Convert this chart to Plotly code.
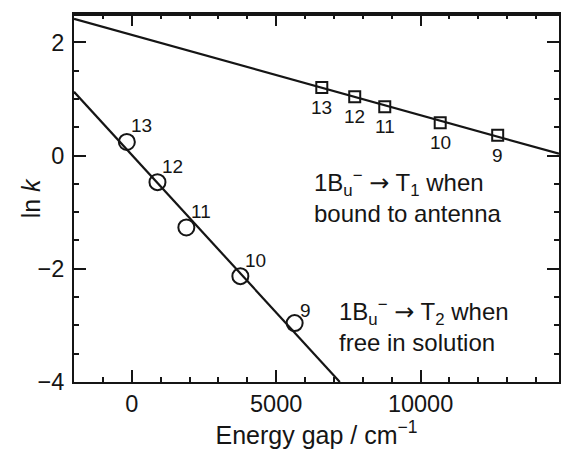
import plotly.graph_objects as go
import numpy as np

# ---- data ----
circle_x = [-170, 890, 1890, 3760, 5640]          # free in solution
circle_y = [0.24, -0.47, -1.27, -2.13, -2.96]
circle_labels = ["13", "12", "11", "10", "9"]

square_x = [6580, 7720, 8760, 10680, 12670]       # bound to antenna
square_y = [1.20, 1.04, 0.86, 0.58, 0.36]
square_labels = ["13", "12", "11", "10", "9"]

# fitted lines: ln k = a + b * E
fit_circle = (0.0125, -5.57e-4)
fit_square = (2.13, -1.418e-4)

x_range = [-2000, 14793]
y_range = [-4, 2.5]
x_ticks = [0, 5000, 10000]
y_ticks = [-4, -2, 0, 2]

FONT = "Liberation Sans, Arial, Helvetica, sans-serif"
INK = "#151515"
ARROW = '<span style="font-family:DejaVu Sans">→</span>'

fig = go.Figure()

xc = np.array([x_range[0], (y_range[0] - fit_circle[0]) / fit_circle[1]])
fig.add_trace(go.Scatter(x=xc, y=fit_circle[0] + fit_circle[1] * xc, mode="lines",
                         line=dict(color=INK, width=2.2), hoverinfo="skip"))
xs = np.array(x_range)
fig.add_trace(go.Scatter(x=xs, y=fit_square[0] + fit_square[1] * xs, mode="lines",
                         line=dict(color=INK, width=2.2), hoverinfo="skip"))

fig.add_trace(go.Scatter(x=circle_x, y=circle_y, mode="markers",
                         marker=dict(symbol="circle-open", size=16, color=INK,
                                     line=dict(width=2, color=INK))))
fig.add_trace(go.Scatter(x=square_x, y=square_y, mode="markers",
                         marker=dict(symbol="square-open", size=11, color=INK,
                                     line=dict(width=2, color=INK))))
# top frame edge along the upper end of the y range
fig.add_trace(go.Scatter(x=x_range, y=[y_range[1], y_range[1]], mode="lines",
                         line=dict(color=INK, width=4), hoverinfo="skip"))
# invisible trace anchoring the top (mirror) x axis
fig.add_trace(go.Scatter(x=square_x, y=square_y, xaxis="x2", mode="markers",
                         marker=dict(opacity=0), hoverinfo="skip"))

ann = []
for i, (x, y, t) in enumerate(zip(circle_x, circle_y, circle_labels)):
    last = i == len(circle_x) - 1
    ann.append(dict(x=x, y=y, text=t, showarrow=False, xref="x", yref="y",
                    xshift=11 if last else 15, yshift=13 if last else 16,
                    font=dict(size=19, family=FONT, color=INK)))
for x, y, t in zip(square_x, square_y, square_labels):
    ann.append(dict(x=x, y=y, text=t, showarrow=False, xref="x", yref="y",
                    xshift=0, yshift=-20,
                    font=dict(size=19, family=FONT, color=INK)))

text_font = dict(size=24, family=FONT, color=INK)
ann += [
    dict(x=6241, y=-0.72, xref="x", yref="y", xanchor="left", yanchor="middle", showarrow=False,
         align="left",
         text="1B<sub>u</sub><sup>−</sup> " + ARROW + " T<sub>1</sub> when<br>bound to antenna",
         font=text_font),
    dict(x=7100, y=-3.01, xref="x", yref="y", xanchor="left", yanchor="middle", showarrow=False,
         align="left",
         text="1B<sub>u</sub><sup>−</sup> " + ARROW + " T<sub>2</sub> when<br>free in solution",
         font=text_font),
    dict(x=-0.088, y=0.5, xref="paper", yref="paper", xanchor="center", yanchor="middle",
         showarrow=False, textangle=-90, text="ln <i>k</i>",
         font=dict(size=25, family=FONT, color=INK)),
]

axis_common = dict(
    showgrid=False, zeroline=False, showline=True, linecolor=INK, linewidth=2,
    ticks="inside", ticklen=12, tickwidth=2, tickcolor=INK,
    tickfont=dict(size=23.5, family=FONT, color=INK),
)

fig.update_layout(
    width=561, height=450,
    margin=dict(l=74, r=0, t=14, b=68),
    paper_bgcolor="white", plot_bgcolor="white",
    showlegend=False,
    annotations=ann,
    xaxis=dict(range=x_range, tickvals=x_ticks, ticktext=[str(v) for v in x_ticks],
               mirror="ticks",
               minor=dict(dtick=1000, ticklen=5, tickwidth=2, tickcolor=INK, ticks="inside"),
               title=dict(text="Energy gap / cm<sup>−1</sup>",
                          font=dict(size=25, family=FONT, color=INK), standoff=4),
               **axis_common),
    xaxis2=dict(range=x_range, tickvals=x_ticks, overlaying="x", side="top", anchor="y",
                showticklabels=False,
                minor=dict(dtick=1000, ticklen=5, tickwidth=2, tickcolor=INK, ticks="inside"),
                **axis_common),
    yaxis=dict(range=y_range, tickvals=y_ticks, mirror="ticks", ticklabelstandoff=3,
               minor=dict(dtick=0.5, ticklen=5, tickwidth=2, tickcolor=INK, ticks="inside"),
               **axis_common),
)

fig.write_html("out.html", config={"displayModeBar": False})
